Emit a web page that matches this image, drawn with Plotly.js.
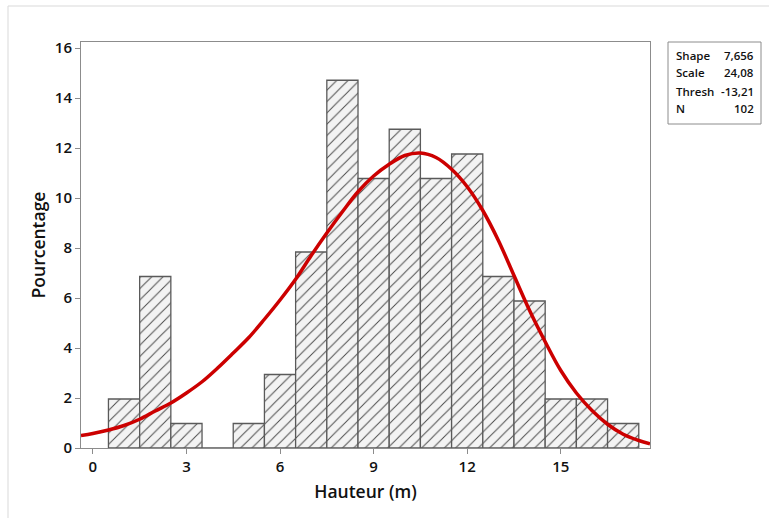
<!DOCTYPE html>
<html>
<head>
<meta charset="utf-8">
<script src="https://cdn.plot.ly/plotly-3.0.1.min.js"></script>
<style>html,body{margin:0;padding:0;background:#fff;}#chart{width:769px;height:518px;}</style>
</head>
<body>
<div id="chart"></div>
<script>
// Histogram bins (centers, width 1) and percentages
const binCenters = [1, 2, 3, 4, 5, 6, 7, 8, 9, 10, 11, 12, 13, 14, 15, 16, 17];
const percentages = [1.96, 6.86, 0.98, 0, 0.98, 2.94, 7.84, 14.71, 10.78, 12.75, 10.78, 11.76, 6.86, 5.88, 1.96, 1.96, 0.98];

// Fitted curve
const curveX = [-0.38, 0, 0.5, 1, 1.5, 2, 2.5, 3, 3.5, 4, 4.5, 5, 5.5, 6, 6.5, 7, 7.5, 8, 8.5, 9, 9.5, 10, 10.5, 11, 11.5, 12, 12.5, 13, 13.5, 14, 14.5, 15, 15.5, 16, 16.5, 17, 17.5, 17.86];
const curveY = [0.50, 0.58, 0.72, 0.9, 1.15, 1.48, 1.8, 2.2, 2.65, 3.2, 3.8, 4.42, 5.15, 5.92, 6.75, 7.7, 8.6, 9.45, 10.25, 10.88, 11.35, 11.7, 11.8, 11.62, 11.15, 10.45, 9.5, 8.3, 6.9, 5.5, 4.25, 3.1, 2.2, 1.5, 0.95, 0.55, 0.3, 0.17];

const xTicks = [0, 3, 6, 9, 12, 15];
const yTicks = [0, 2, 4, 6, 8, 10, 12, 14, 16];

const statLabels = ["Shape", "Scale", "Thresh", "N"];
const statValues = ["7,656", "24,08", "-13,21", "102"];

const FONT = "Open Sans, Noto Sans, sans-serif";

const traces = [
  {
    type: 'bar',
    x: binCenters,
    y: percentages,
    width: 1,
    marker: {
      color: '#f3f3f3',
      line: {color: '#5a5a5a', width: 1.3},
      pattern: {shape: '/', fgcolor: '#4a4a4a', bgcolor: '#f3f3f3', size: 8, solidity: 0.12}
    },
    hoverinfo: 'skip'
  },
  {
    type: 'scatter',
    mode: 'lines',
    x: curveX,
    y: curveY,
    line: {color: '#cc0000', width: 3.5, shape: 'spline', smoothing: 1},
    hoverinfo: 'skip'
  }
];

// paper coords helpers based on plot area pixels
const L = 81, R = 650, T = 42, B = 448;
const px = v => (v - L) / (R - L);
const py = v => (B - v) / (B - T);

const annotations = [];
const rowY = [55, 73, 91, 109];
statLabels.forEach((lab, i) => {
  annotations.push({xref: 'paper', yref: 'paper', x: px(674), y: py(rowY[i]), xanchor: 'left', yanchor: 'middle',
    text: lab, showarrow: false, font: {family: FONT, size: 11.5, color: '#111', weight: 600}});
  annotations.push({xref: 'paper', yref: 'paper', x: px(756), y: py(rowY[i]), xanchor: 'right', yanchor: 'middle',
    text: statValues[i], showarrow: false, font: {family: FONT, size: 11.5, color: '#111', weight: 600}});
});

const shapes = [
  {type: 'rect', xref: 'paper', yref: 'paper', x0: px(668), x1: px(761), y0: py(124), y1: py(42),
    line: {color: '#8c8c8c', width: 1}, fillcolor: 'rgba(0,0,0,0)'},
  {type: 'line', xref: 'paper', yref: 'paper', x0: px(8), x1: px(769), y0: py(6), y1: py(6),
    line: {color: '#d9d9d9', width: 1}},
  {type: 'line', xref: 'paper', yref: 'paper', x0: px(8), x1: px(8), y0: py(6), y1: py(518),
    line: {color: '#d9d9d9', width: 1}}
];

const layout = {
  width: 769, height: 518,
  margin: {l: L, r: 769 - R, t: T, b: 518 - B},
  paper_bgcolor: '#ffffff', plot_bgcolor: '#ffffff',
  showlegend: false,
  bargap: 0,
  font: {family: FONT, color: '#111'},
  xaxis: {
    range: [-0.38, 17.86],
    tickvals: xTicks, ticktext: xTicks.map(String),
    ticks: 'outside', ticklen: 5, tickcolor: '#8c8c8c',
    showline: true, linecolor: '#8c8c8c', linewidth: 1, mirror: true,
    showgrid: false, zeroline: false,
    tickfont: {family: FONT, size: 15, color: '#111', weight: 600},
    title: {text: 'Hauteur (m)', font: {family: FONT, size: 17.5, color: '#111', weight: 600}, standoff: 10}
  },
  yaxis: {
    range: [0, 16.24],
    tickvals: yTicks, ticktext: yTicks.map(String),
    ticks: 'outside', ticklen: 5, tickcolor: '#8c8c8c',
    showline: true, linecolor: '#8c8c8c', linewidth: 1, mirror: true,
    showgrid: false, zeroline: false,
    tickfont: {family: FONT, size: 15, color: '#111', weight: 600},
    title: {text: 'Pourcentage', font: {family: FONT, size: 17.5, color: '#111', weight: 600}, standoff: 4}
  },
  annotations: annotations,
  shapes: shapes
};

Plotly.newPlot('chart', traces, layout, {staticPlot: true, displayModeBar: false});
</script>
</body>
</html>
